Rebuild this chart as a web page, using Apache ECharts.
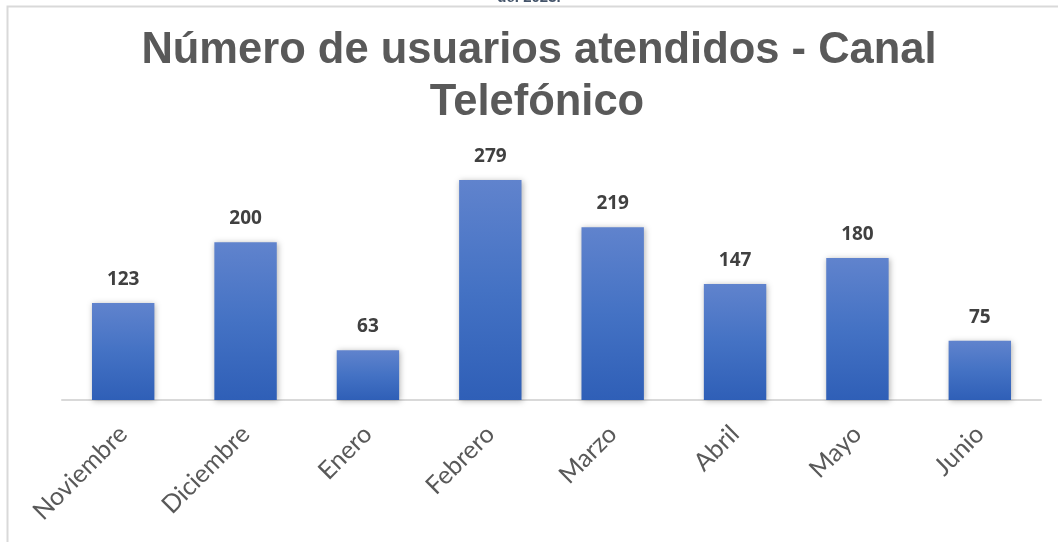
<!DOCTYPE html>
<html>
<head>
<meta charset="utf-8">
<script src="https://cdn.jsdelivr.net/npm/echarts@6/dist/echarts.min.js"></script>
<style>
html,body{margin:0;padding:0;background:#fff;}
#chart{width:1058px;height:542px;}
</style>
</head>
<body>
<div id="chart"></div>
<script>
const categories = ['Noviembre','Diciembre','Enero','Febrero','Marzo','Abril','Mayo','Junio'];
const values = [123, 200, 63, 279, 219, 147, 180, 75];
const titleLines = ['Número de usuarios atendidos - Canal', 'Telefónico'];
const topCutText = 'de. 2023.';

const titleStyle = {
  fontFamily: 'Liberation Sans',
  fontWeight: 'bold',
  fontSize: 43.5,
  fill: '#595959',
  align: 'center',
  verticalAlign: 'middle'
};

const chart = echarts.init(document.getElementById('chart'));
chart.setOption({
  animation: false,
  backgroundColor: '#ffffff',
  graphic: [
    { type: 'rect', shape: { x: 7.5, y: 6.5, width: 1100, height: 600 }, style: { fill: 'none', stroke: '#D9D9D9', lineWidth: 2 }, silent: true, z: -1 },
    { type: 'text', left: 'center', top: -10, style: { text: topCutText, fontFamily: 'Liberation Sans', fontSize: 15, fontWeight: 'bold', fill: '#44546A' } },
    { type: 'text', x: 539, y: 51, style: Object.assign({ text: titleLines[0] }, titleStyle) },
    { type: 'text', x: 537, y: 103, style: Object.assign({ text: titleLines[1] }, titleStyle) }
  ],
  grid: { left: 62, right: 17, top: 163.4, bottom: 142, containLabel: false },
  xAxis: {
    type: 'category',
    data: categories,
    axisLine: { lineStyle: { color: '#D9D9D9', width: 2 } },
    axisTick: { show: false },
    axisLabel: {
      rotate: 45,
      margin: 30,
      interval: 0,
      fontFamily: 'Lato',
      fontWeight: 'normal',
      fontSize: 25,
      color: '#595959'
    }
  },
  yAxis: {
    type: 'value',
    min: 0,
    max: 300,
    show: false,
    splitLine: { show: false }
  },
  series: [{
    type: 'bar',
    data: values,
    barWidth: '51%',
    itemStyle: {
      color: new echarts.graphic.LinearGradient(0, 0, 0, 1, [
        { offset: 0, color: '#6083CD' },
        { offset: 0.5, color: '#4472C4' },
        { offset: 1, color: '#2F5FB7' }
      ]),
      shadowBlur: 6,
      shadowColor: 'rgba(0,0,0,0.3)',
      shadowOffsetX: 1,
      shadowOffsetY: 1
    },
    label: {
      show: true,
      position: 'top',
      distance: 14,
      fontFamily: 'Open Sans',
      fontWeight: 'bold',
      fontSize: 19,
      color: '#404040'
    }
  }]
});
</script>
</body>
</html>
